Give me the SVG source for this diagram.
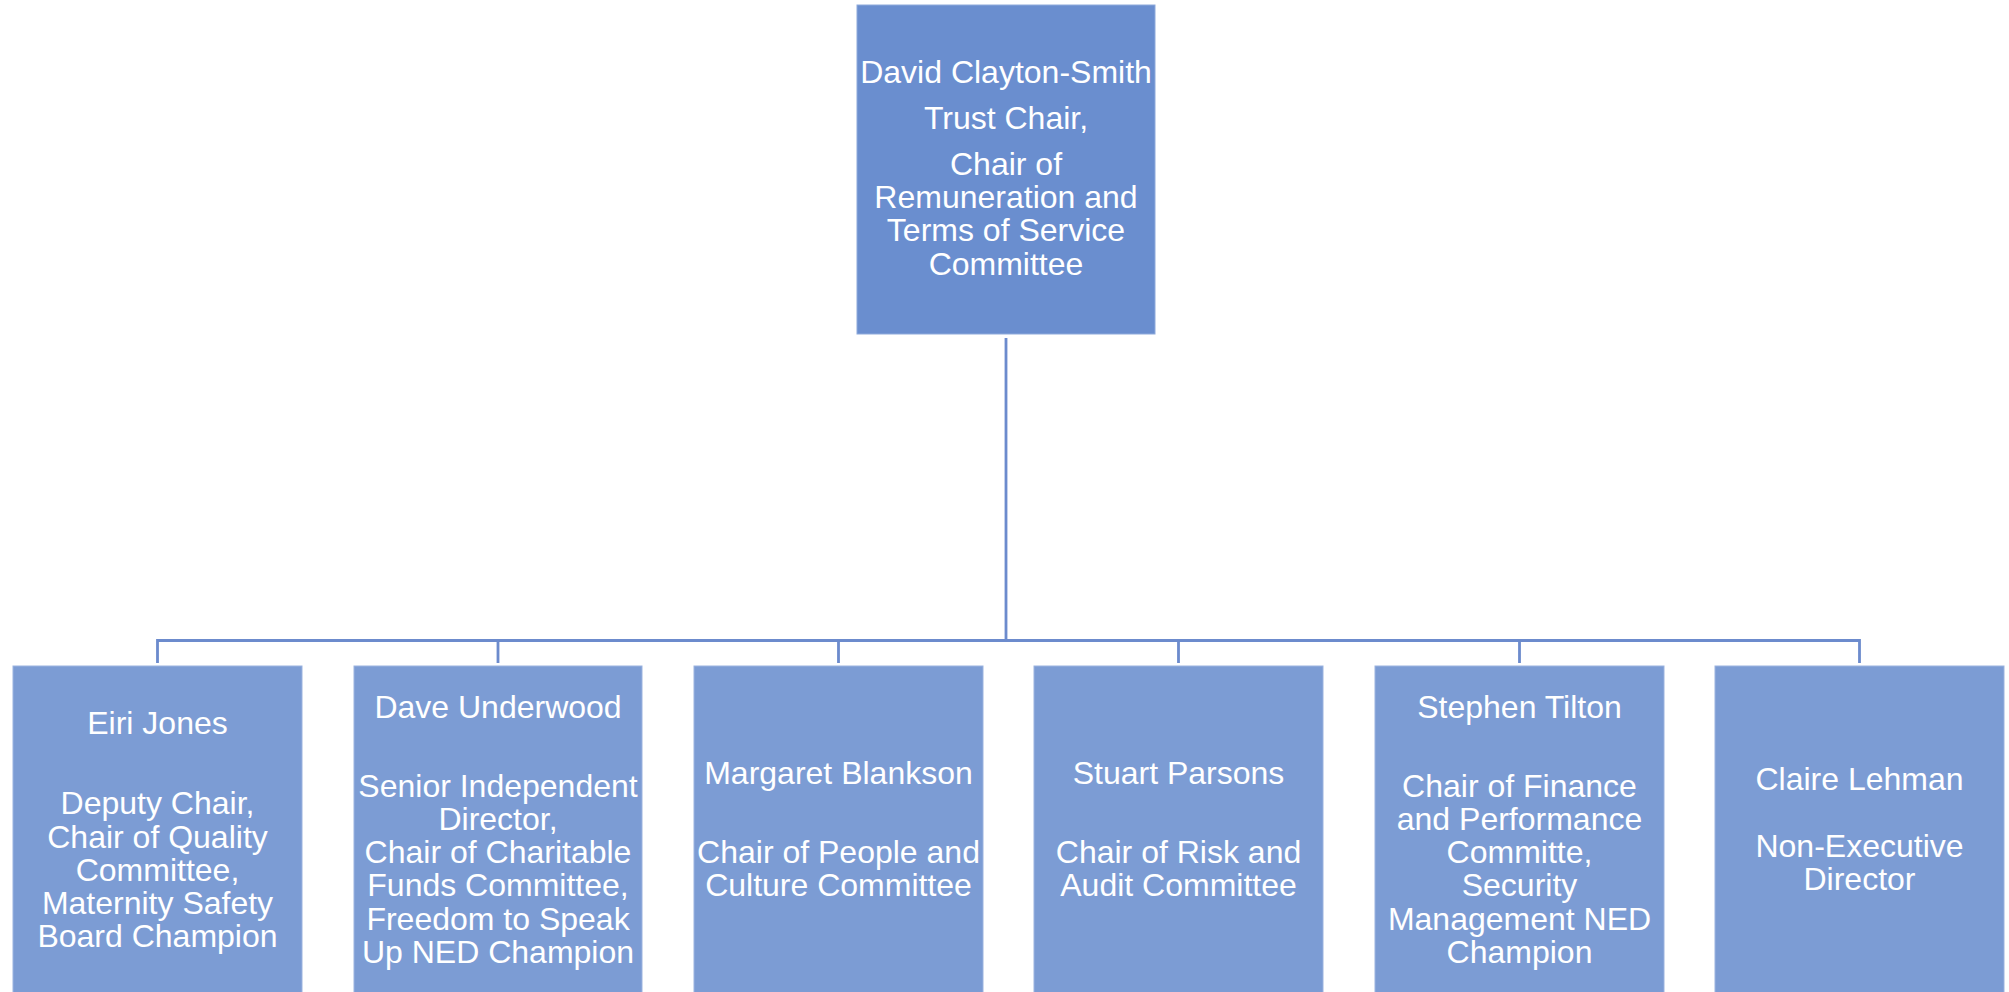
<svg xmlns="http://www.w3.org/2000/svg" width="2009" height="992" viewBox="0 0 2009 992">
<style>
.top{fill:#6a8ecf;stroke:#8eaadb;stroke-width:1}
.box{fill:#7c9cd4;stroke:#9bb3df;stroke-width:1}
.conn{fill:none;stroke:#6c8bcd;stroke-width:2.8}
text{font-family:"Liberation Sans",Arial,sans-serif;font-size:32px;fill:#ffffff;text-anchor:middle}
</style>
<rect width="2009" height="992" fill="#ffffff"/>
<g id="connectors">
<path class="conn" d="M1006,338 V640.5"/>
<path class="conn" d="M157.5,663 V640.5 H1859.5 V663"/>
<path class="conn" d="M498,640.5 V663 M838.5,640.5 V663 M1178.5,640.5 V663 M1519.5,640.5 V663"/>
</g>
<g id="node-chair">
<rect class="top" x="857" y="5" width="298" height="329"/>
<text x="1006" y="83">David Clayton-Smith</text>
<text x="1006" y="129">Trust Chair,</text>
<text x="1006" y="175">Chair of</text>
<text x="1006" y="208">Remuneration and</text>
<text x="1006" y="241">Terms of Service</text>
<text x="1006" y="275">Committee</text>
</g>
<g id="node-eiri">
<rect class="box" x="13" y="666" width="289" height="330"/>
<text x="157.5" y="734">Eiri Jones</text>
<text x="157.5" y="814">Deputy Chair,</text>
<text x="157.5" y="847.5">Chair of Quality</text>
<text x="157.5" y="880.5">Committee,</text>
<text x="157.5" y="913.5">Maternity Safety</text>
<text x="157.5" y="946.5">Board Champion</text>
</g>
<g id="node-dave">
<rect class="box" x="354" y="666" width="288" height="330"/>
<text x="498" y="718">Dave Underwood</text>
<text x="498" y="797">Senior Independent</text>
<text x="498" y="830">Director,</text>
<text x="498" y="863">Chair of Charitable</text>
<text x="498" y="896">Funds Committee,</text>
<text x="498" y="929.5">Freedom to Speak</text>
<text x="498" y="962.5">Up NED Champion</text>
</g>
<g id="node-margaret">
<rect class="box" x="694" y="666" width="289" height="330"/>
<text x="838.5" y="784">Margaret Blankson</text>
<text x="838.5" y="863">Chair of People and</text>
<text x="838.5" y="896">Culture Committee</text>
</g>
<g id="node-stuart">
<rect class="box" x="1034" y="666" width="289" height="330"/>
<text x="1178.5" y="784">Stuart Parsons</text>
<text x="1178.5" y="863">Chair of Risk and</text>
<text x="1178.5" y="896">Audit Committee</text>
</g>
<g id="node-stephen">
<rect class="box" x="1375" y="666" width="289" height="330"/>
<text x="1519.5" y="718">Stephen Tilton</text>
<text x="1519.5" y="797">Chair of Finance</text>
<text x="1519.5" y="830">and Performance</text>
<text x="1519.5" y="863">Committe,</text>
<text x="1519.5" y="896">Security</text>
<text x="1519.5" y="930">Management NED</text>
<text x="1519.5" y="963">Champion</text>
</g>
<g id="node-claire">
<rect class="box" x="1715" y="666" width="289" height="330"/>
<text x="1859.5" y="790">Claire Lehman</text>
<text x="1859.5" y="857">Non-Executive</text>
<text x="1859.5" y="889.5">Director</text>
</g>
</svg>
